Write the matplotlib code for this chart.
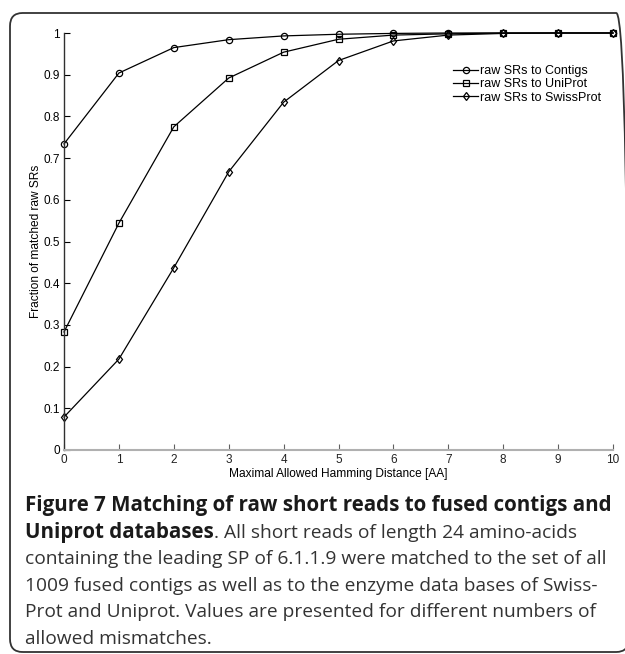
import numpy as np
import matplotlib
matplotlib.use("Agg")
import matplotlib.pyplot as plt
from matplotlib.patches import FancyBboxPatch

# data
dist = [0, 1, 2, 3, 4, 5, 6, 7, 8, 9, 10]
contigs = [0.734, 0.904, 0.965, 0.984, 0.993, 0.997, 0.999, 1.0, 1.0, 1.0, 1.0]
uniprot = [0.283, 0.544, 0.775, 0.892, 0.954, 0.985, 0.995, 0.998, 1.0, 1.0, 1.0]
swissprot = [0.079, 0.218, 0.437, 0.667, 0.834, 0.934, 0.981, 0.995, 0.999, 1.0, 1.0]
labels = ["raw SRs to Contigs", "raw SRs to UniProt", "raw SRs to SwissProt"]
yticks = [0, 0.1, 0.2, 0.3, 0.4, 0.5, 0.6, 0.7, 0.8, 0.9, 1]
ytick_labels = ["0", "0.1", "0.2", "0.3", "0.4", "0.5", "0.6", "0.7", "0.8", "0.9", "1"]

caption_bold1 = "Figure 7 Matching of raw short reads to fused contigs and"
caption_bold2 = "Uniprot databases"
caption_rest = [
    ". All short reads of length 24 amino-acids",
    "containing the leading SP of 6.1.1.9 were matched to the set of all",
    "1009 fused contigs as well as to the enzyme data bases of Swiss-",
    "Prot and Uniprot. Values are presented for different numbers of",
    "allowed mismatches.",
]

W, H = 625, 654
fig = plt.figure(figsize=(W / 100, H / 100), dpi=100)
plt.rcParams['font.family'] = ['Liberation Sans', 'DejaVu Sans']

ax = fig.add_axes([64 / W, 1 - 450 / H, (613 - 64) / W, (450 - 33) / H])
ax.plot(dist, contigs, color='black', lw=0.9, marker='o', ms=4.5, mfc='none',
        mew=0.9, label=labels[0], clip_on=False)
ax.plot(dist, uniprot, color='black', lw=0.9, marker='s', ms=4, mfc='none',
        mew=0.9, label=labels[1], clip_on=False)
ax.plot(dist, swissprot, color='black', lw=0.9, marker='d', ms=4.5, mfc='none',
        mew=0.9, label=labels[2], clip_on=False)

ax.set_xlim(0, 10)
ax.set_ylim(0, 1)
ax.set_xticks(dist)
ax.set_yticks(yticks)
ax.set_yticklabels(ytick_labels)
for s in ['top', 'right']:
    ax.spines[s].set_visible(False)
ax.spines['bottom'].set_color('#b0b0b0')
ax.spines['bottom'].set_linewidth(1.5)
ax.spines['left'].set_color('#303030')
ax.spines['left'].set_linewidth(1.0)
ax.tick_params(axis='both', direction='in', labelsize=8.5, length=4, pad=3)
ax.tick_params(axis='x', colors='#606060', labelcolor='#222222')
ax.set_xlabel('Maximal Allowed Hamming Distance [AA]', fontsize=8.6, labelpad=1)
ax.set_ylabel('Fraction of matched raw SRs', fontsize=8.6, labelpad=1)
ax.legend(frameon=False, loc='upper right', bbox_to_anchor=(0.998, 0.95),
          fontsize=9, handlelength=2.0, handletextpad=0.1, labelspacing=0.1)

# rounded frame around the figure panel
box = FancyBboxPatch((10 / W, 2 / H), 0.99, (652 - 13) / H,
                     boxstyle="round,pad=0,rounding_size=0.02",
                     transform=fig.transFigure, fill=False, ec='#333333',
                     lw=1.3, clip_on=False)
fig.patches.append(box)

# caption
cfont = ['Open Sans', 'DejaVu Sans']
x0 = 25 / W
fsb = 14.8
fs = 13.8
y1 = 1 - 511 / H
step = 26.6 / H
fig.text(x0, y1, caption_bold1, fontsize=fsb, fontweight='bold', family=cfont,
         color='#1a1a1a', va='baseline')
t = fig.text(x0, y1 - step, caption_bold2, fontsize=fsb, fontweight='bold',
             family=cfont, color='#1a1a1a', va='baseline')
fig.canvas.draw()
bb = t.get_window_extent(renderer=fig.canvas.get_renderer())
fig.text(bb.x1 / W, y1 - step, caption_rest[0], fontsize=fs, family=cfont,
         color='#333333', va='baseline')
for i, line in enumerate(caption_rest[1:]):
    fig.text(x0, y1 - (i + 2) * step, line, fontsize=fs, family=cfont,
             color='#333333', va='baseline')

fig.savefig('out.png', dpi=100)
